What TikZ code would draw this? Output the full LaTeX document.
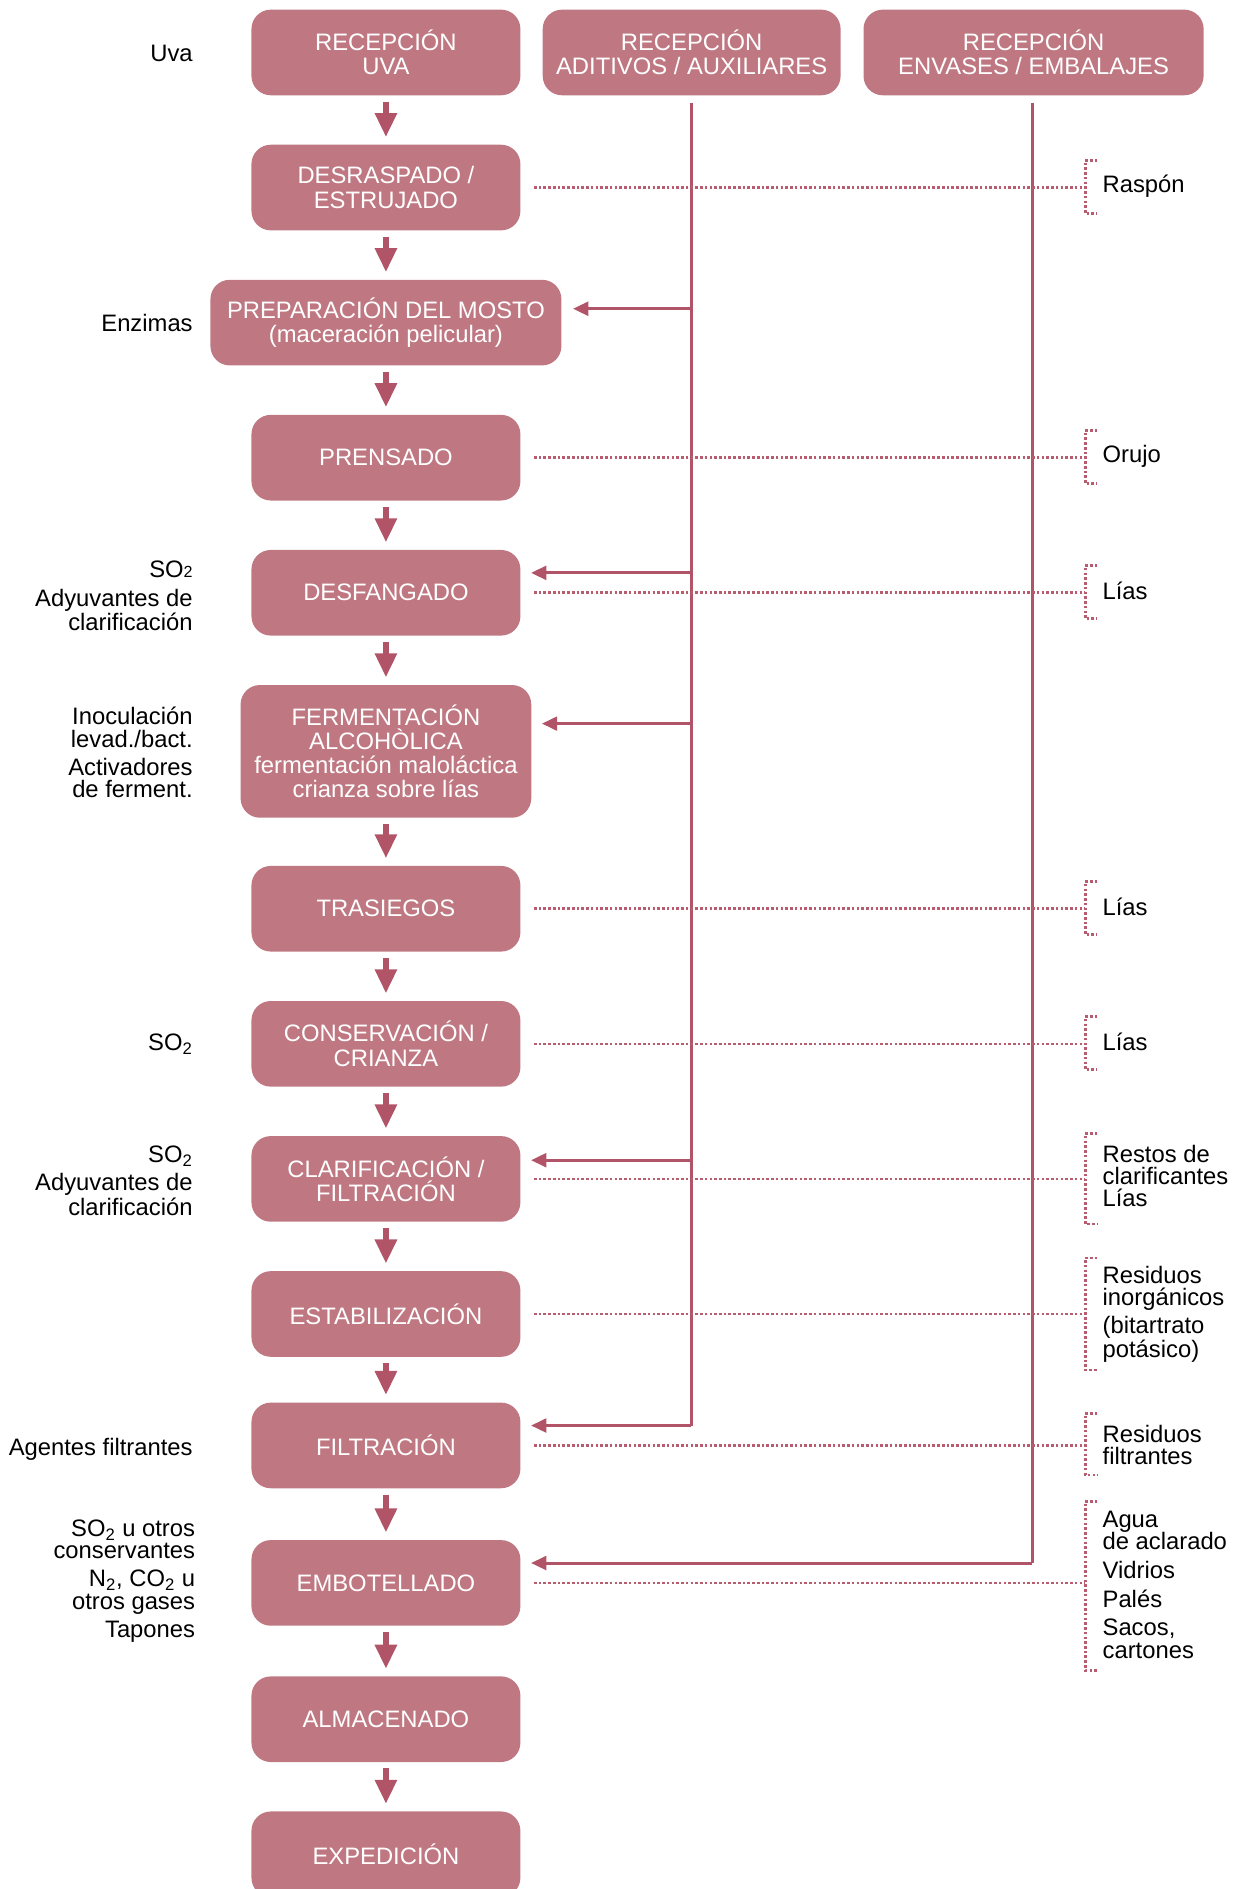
\documentclass[tikz,border=0pt]{standalone}
\usepackage{fontspec}
\setmainfont{Liberation Sans}
\usetikzlibrary{arrows.meta}
\definecolor{boxc}{RGB}{191,120,130}
\definecolor{linec}{RGB}{178,84,104}
\definecolor{dotc}{RGB}{184,92,112}
\newcommand\boxfont{\fontsize{14.8}{15}\selectfont}
\newcommand\labfont{\fontsize{14.8}{13.9}\selectfont}
\newcommand\smalltwo{{\fontsize{10}{10}\selectfont 2}}
\begin{document}
\begin{tikzpicture}[x=0.75pt,y=-0.75pt,
  stepbox/.style={fill=boxc, rounded corners=12pt, text=white, minimum width=167.25pt,
    minimum height=53.25pt, align=center, inner sep=0pt, font=\boxfont},
  lab/.style={inner sep=0pt, font=\labfont, text=black},
  labl/.style={lab, anchor=east, align=right},
  labr/.style={lab, anchor=west, align=left},
  downarr/.style={draw=linec, line width=4.2pt, -{Triangle[width=13pt,length=15pt]},
    shorten <=3.75pt, shorten >=4.5pt},
  feed/.style={draw=linec, line width=1.9pt, -{Triangle[width=8.5pt,length=9.5pt]}},
  vline/.style={draw=linec, line width=1.9pt},
  dotl/.style={draw=dotc, line width=1.6pt, dash pattern=on 1.6pt off 1.35pt}]
\clip (0,0) rectangle (1024,1566.3);
\useasboundingbox (0,0) rectangle (1024,1566.3);

% main process boxes
\node[stepbox] (uva) at (320,43.5) {RECEPCIÓN\\UVA};
\node[stepbox] (desr) at (320,155.5) {DESRASPADO /\\ESTRUJADO};
\node[stepbox, minimum width=218.25pt] (prep) at (320,267.5) {PREPARACIÓN DEL MOSTO\\(maceración pelicular)};
\node[stepbox] (prens) at (320,379.5) {PRENSADO};
\node[stepbox] (desf) at (320,491.5) {DESFANGADO};
\node[stepbox, minimum width=180.75pt, minimum height=82.5pt] (ferm) at (320,623) {FERMENTACIÓN\\ALCOHÒLICA\\fermentación maloláctica\\crianza sobre lías};
\node[stepbox] (tras) at (320,753.5) {TRASIEGOS};
\node[stepbox] (cons) at (320,865.5) {CONSERVACIÓN /\\CRIANZA};
\node[stepbox] (clar) at (320,977.5) {CLARIFICACIÓN /\\FILTRACIÓN};
\node[stepbox] (estab) at (320,1089.5) {ESTABILIZACIÓN};
\node[stepbox] (filt) at (320,1198.5) {FILTRACIÓN};
\node[stepbox] (embo) at (320,1312.5) {EMBOTELLADO};
\node[stepbox] (alm) at (320,1425.5) {ALMACENADO};
\node[stepbox] (expe) at (320,1537.5) {EXPEDICIÓN};

% top supply boxes
\node[stepbox, minimum width=185.25pt] (adit) at (573.5,43.5) {RECEPCIÓN\\ADITIVOS / AUXILIARES};
\node[stepbox, minimum width=211.5pt] (env) at (857,43.5) {RECEPCIÓN\\ENVASES / EMBALAJES};

% down arrows
\foreach \a/\b in {uva/desr, desr/prep, prep/prens, prens/desf, desf/ferm, ferm/tras,
  tras/cons, cons/clar, clar/estab, estab/filt, filt/embo, embo/alm, alm/expe}
  \draw[downarr] (\a.south) -- (\b.north);

% supply lines
\coordinate (aTop) at (573,85);
\coordinate (aBot) at (573,1182);
\coordinate (eTop) at (856,85);
\coordinate (eBot) at (856,1296);
\draw[vline] (aTop) -- (aBot);
\draw[vline] (eTop) -- (eBot);
\coordinate (a1) at (573,256);
\coordinate (a2) at (573,475);
\coordinate (a3) at (573,600);
\coordinate (a4) at (573,962);
\draw[feed, shorten >=7pt] (a1) -- (a1 -| prep.east);
\draw[feed, shorten >=6.4pt] (a2) -- (a2 -| desf.east);
\draw[feed, shorten >=6.4pt] (a3) -- (a3 -| ferm.east);
\draw[feed, shorten >=6.4pt] (a4) -- (a4 -| clar.east);
\draw[feed, shorten >=6.4pt] (aBot) -- (aBot -| filt.east);
\draw[feed, shorten >=6.4pt] (eBot) -- (eBot -| embo.east);

% waste brackets
\foreach \n/\t/\c/\bt in {r1/133/155.5/177, r2/357/379.5/401, r3/469/491.5/513,
  r4/731/753.5/775, r5/843/865.5/887, r6/940/977.5/1015, r7/1043/1089.5/1136,
  r8/1172/1198.5/1223, r9/1245/1312.5/1385}{
  \coordinate (\n) at (900,\c);
  \draw[dotl] (910,\t) -- (900,\t) -- (900,\bt) -- (910,\bt);
}
\foreach \b/\r in {desr/r1, prens/r2, desf/r3, tras/r4, cons/r5, clar/r6, estab/r7, filt/r8, embo/r9}
  \draw[dotl] (\b.east) ++(8.25pt,0) -- (\r);

% waste labels
\node[labr] (w1) at (914,154) {Raspón};
\node[labr] (w2) at (914,378) {Orujo};
\node[labr] (w3) at (914,490) {Lías};
\node[labr] (w4) at (914,752) {Lías};
\node[labr] (w5) at (914,864) {Lías};
\node[labr] (w6) at (914,975) {Restos de\\clarificantes\\Lías};
\node[labr] (w7) at (914,1090) {Residuos\\inorgánicos\\[3.4pt](bitartrato\\potásico)};
\node[labr] (w8) at (914,1198) {Residuos\\filtrantes};
\node[labr] (w9) at (914,1314) {Agua\\de aclarado\\[3.6pt]Vidrios\\[4.2pt]Palés\\[3.8pt]Sacos,\\cartones};

% input labels
\node[labl] (i1) at (160,44) {Uva};
\node[labl] (i3) at (160,268) {Enzimas};
\node[labl] (i5) at (160,494) {SO\smalltwo\\[3.6pt]Adyuvantes de\\clarificación};
\node[labl] (i6) at (160,624) {Inoculación\\levad./bact.\\[3.6pt]Activadores\\de ferment.};
\node[labl] (i8) at (160,866) {SO\textsubscript{2}};
\node[labl] (i9) at (160,979) {SO\textsubscript{2}\\[3.6pt]Adyuvantes de\\clarificación};
\node[labl] (i11) at (160,1202) {Agentes filtrantes};
\node[labl] (i12) at (162,1311) {SO\textsubscript{2} u otros\\conservantes\\[3.6pt]N\textsubscript{2}, CO\textsubscript{2} u\\otros gases\\[3.6pt]Tapones};
\end{tikzpicture}
\end{document}
